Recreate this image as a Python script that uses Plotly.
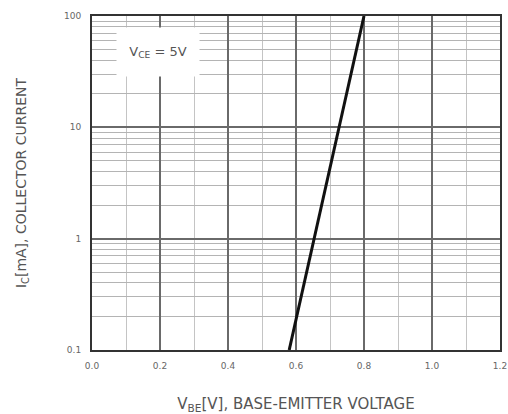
import plotly.graph_objects as go

# Data
vbe = [0.58, 0.80]          # V_BE [V]
ic = [0.1, 100]             # I_C [mA]
x_ticks = [0.0, 0.2, 0.4, 0.6, 0.8, 1.0, 1.2]
x_ticktext = ["0.0", "0.2", "0.4", "0.6", "0.8", "1.0", "1.2"]
y_ticks = [0.1, 1, 10, 100]
y_ticktext = ["0.1", "1", "10", "100"]

FONT = "DejaVu Sans, Liberation Sans, sans-serif"

fig = go.Figure()
fig.add_trace(go.Scatter(x=vbe, y=ic, mode="lines",
                         line=dict(color="#111111", width=3),
                         showlegend=False, hoverinfo="skip"))

fig.update_layout(
    width=508, height=414,
    margin=dict(l=92, r=8, t=16, b=64),
    paper_bgcolor="white", plot_bgcolor="white",
    font=dict(family=FONT, color="#555555", size=9),
    xaxis=dict(
        range=[0, 1.2], tickvals=x_ticks, ticktext=x_ticktext,
        showgrid=True, gridcolor="#6a6a6a", gridwidth=1.5,
        minor=dict(dtick=0.1, showgrid=True, gridcolor="#c4c4c4", gridwidth=1),
        showline=True, linecolor="#333333", linewidth=2, mirror=True,
        ticks="outside", ticklen=6, tickcolor="rgba(0,0,0,0)",
        zeroline=False, ticklabeloverflow="allow", automargin=False,
        tickfont=dict(size=9, color="#666666"),
        title=dict(text="V<sub>BE</sub>[V], BASE-EMITTER VOLTAGE",
                   font=dict(size=15, color="#555555"), standoff=30),
    ),
    yaxis=dict(
        type="log", range=[-1, 2], tickvals=y_ticks, ticktext=y_ticktext,
        showgrid=True, gridcolor="#6a6a6a", gridwidth=1.5,
        minor=dict(dtick="D1", showgrid=True, gridcolor="#b4b4b4", gridwidth=1),
        showline=True, linecolor="#333333", linewidth=2, mirror=True,
        ticks="outside", ticklen=7, tickcolor="rgba(0,0,0,0)",
        zeroline=False, automargin=False,
        tickfont=dict(size=9, color="#666666"),
        title=dict(text="I<sub>C</sub>[mA], COLLECTOR CURRENT",
                   font=dict(size=14, color="#555555"), standoff=34),
    ),
    annotations=[dict(
        x=0.195, y=0.892, xref="x", yref="paper",
        xanchor="center", yanchor="middle",
        text="V<sub>CE</sub> = 5V", showarrow=False,
        font=dict(size=13, color="#555555", family=FONT),
        bgcolor="white", width=80, height=46,
    )],
)

fig.write_html("out.html", config={"displayModeBar": False},
               post_script="document.body.style.margin='0';document.body.style.overflow='hidden';")
